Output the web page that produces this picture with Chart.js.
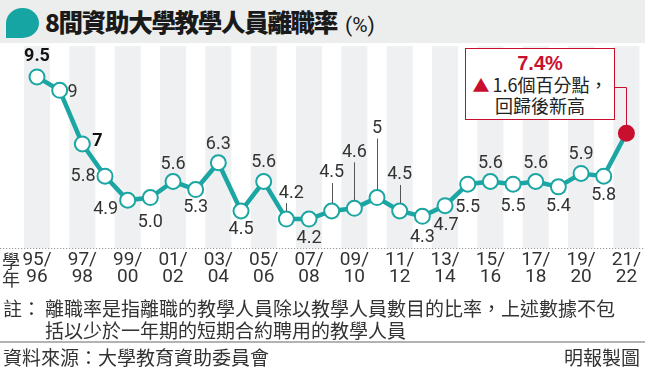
<!DOCTYPE html>
<html lang="zh-Hant">
<head>
<meta charset="utf-8">
<script src="https://cdn.jsdelivr.net/npm/chart.js@4"></script>
<style>
  html, body { margin:0; padding:0; background:#fff; }
  body { width:645px; height:368px; position:relative; overflow:hidden;
         font-family:'Noto Sans CJK TC', sans-serif; color:#2b2b2b; }
  .title-bar { position:absolute; left:0; top:0; width:645px; height:43px; background:#eceeee; }
  .title-icon { position:absolute; left:6px; top:8px; width:33px; height:30px; background:#17a5a3;
                border-radius:50% 50% 50% 0; }
  .title { position:absolute; left:45px; top:4px; font-size:24.5px; font-weight:900; color:#1a1a1a;
           letter-spacing:-1.3px; white-space:nowrap; }
  .title .unit { font-family:'Liberation Sans Narrow','Roboto',sans-serif; font-weight:400; font-size:21px;
                 letter-spacing:0; margin-left:8px; }
  #chart { position:absolute; left:0; top:0; }
  .xname { position:absolute; left:2px; top:251px; font-size:18px; line-height:18px; color:#333; }
  .callout { position:absolute; left:465px; top:48px; width:148px; height:70px; background:#fff;
             border:1.5px solid #c8102e; text-align:center; color:#222; }
  .callout .big { font-family:'Liberation Sans','Roboto',sans-serif; font-weight:700; color:#c8102e;
                  font-size:20px; line-height:22px; margin-top:3px; }
  .callout .txt { font-size:18px; line-height:21px; }
  .callout .tri { color:#c8102e; font-size:17px; margin-right:3px; }
  .note { position:absolute; top:297px; font-size:19px; line-height:22px; color:#333; }
  .rule { position:absolute; left:0; top:341px; width:645px; height:2px; background:#b3b3b3; }
  .src { position:absolute; top:345px; font-size:19px; line-height:24px; color:#333; }
</style>
</head>
<body>
<div class="title-bar"></div>
<div class="title-icon"></div>
<div class="title">8間資助大學教學人員離職率<span class="unit">(%)</span></div>

<canvas id="chart" width="645" height="300"></canvas>

<div class="xname">學<br>年</div>
<div class="callout">
  <div class="big">7.4%</div>
  <div class="txt"><span class="tri">▲</span>1.6個百分點，</div>
  <div class="txt">回歸後新高</div>
</div>

<div class="note" style="left:3px">註：</div>
<div class="note" style="left:45px">離職率是指離職的教學人員除以教學人員數目的比率，上述數據不包<br>括以少於一年期的短期合約聘用的教學人員</div>
<div class="rule"></div>
<div class="src" style="left:3px">資料來源：大學教育資助委員會</div>
<div class="src" style="right:5px">明報製圖</div>

<script>
// ── DATA ─────────────────────────────────────
const years = [
  '95/96','96/97','97/98','98/99','99/00','00/01','01/02','02/03','03/04',
  '04/05','05/06','06/07','07/08','08/09','09/10','10/11','11/12','12/13',
  '13/14','14/15','15/16','16/17','17/18','18/19','19/20','20/21','21/22'
];
const rates = [
  9.5, 9, 7, 5.8, 4.9, 5.0, 5.6, 5.3, 6.3,
  4.5, 5.6, 4.2, 4.2, 4.5, 4.6, 5, 4.5, 4.3,
  4.7, 5.5, 5.6, 5.5, 5.6, 5.4, 5.9, 5.8, 7.4
];
const rateLabels = [
  '9.5','9','7','5.8','4.9','5.0','5.6','5.3','6.3',
  '4.5','5.6','4.2','4.2','4.5','4.6','5','4.5','4.3',
  '4.7','5.5','5.6','5.5','5.6','5.4','5.9','5.8',''
];

// 標籤位置 [dx, dy, 引線]
const labelPos = [
  [0,-20,0],[13,2,0],[15,-2,0],[-22,0,0],[-22,9,0],[0,25,0],[0,-17,0],[0,18,0],[0,-18,0],
  [0,19,0],[0,-19,0],[5,-26,1],[0,19,0],[0,-38,1],[0,-56,1],[0,-69,1],[0,-36,1],[0,21,0],
  [1,20,0],[0,23,0],[0,-18,0],[0,22,0],[0,-18,0],[0,20,0],[0,-19,0],[0,19,0],[0,0,0]
];
const boldIdx = [0, 2];

const TEAL = '#1ba6a3';
const RED  = '#c8102e';
const NARROW = "'Liberation Sans Narrow', 'Roboto', sans-serif";

// ── PLUGINS ──────────────────────────────────
const bands = {
  id: 'bands',
  beforeDraw(chart) {
    const { ctx, chartArea, scales: { x } } = chart;
    ctx.save();
    ctx.fillStyle = '#eef0f1';
    years.forEach((y, i) => {
      if (i % 2) return;
      const px = x.getPixelForValue(i);
      ctx.fillRect(px - 13, 46, 26, chartArea.bottom - 46);
    });
    // 虛線底線
    ctx.fillStyle = '#9a9a9a';
    for (let xx = 0; xx < chart.width; xx += 3) ctx.fillRect(xx, chartArea.bottom, 1.2, 1);
    ctx.restore();
  }
};

const valueLabels = {
  id: 'valueLabels',
  afterDatasetsDraw(chart) {
    const { ctx } = chart;
    const pts = chart.getDatasetMeta(0).data;
    ctx.save();
    ctx.textAlign = 'center';
    ctx.textBaseline = 'middle';
    pts.forEach((p, i) => {
      const txt = rateLabels[i];
      if (!txt) return;
      const [dx, dy, lead] = labelPos[i];
      ctx.font = (boldIdx.includes(i) ? 'bold ' : '') + '18px ' + NARROW;
      ctx.fillStyle = boldIdx.includes(i) ? '#111' : '#333';
      ctx.fillText(txt, p.x + dx, p.y + dy);
      if (lead) {
        ctx.strokeStyle = '#555';
        ctx.lineWidth = 1;
        ctx.beginPath();
        ctx.moveTo(Math.round(p.x) + 0.5, p.y + dy + 10);
        ctx.lineTo(Math.round(p.x) + 0.5, p.y - 8);
        ctx.stroke();
      }
    });
    // 說明框引線
    const last = pts[pts.length - 1];
    ctx.strokeStyle = RED;
    ctx.lineWidth = 1;
    ctx.beginPath();
    ctx.moveTo(614, 87.5);
    ctx.lineTo(Math.round(last.x) + 0.5, 87.5);
    ctx.lineTo(Math.round(last.x) + 0.5, last.y - 6);
    ctx.stroke();
    ctx.restore();
  }
};

// ── CHART ────────────────────────────────────
new Chart(document.getElementById('chart'), {
  type: 'line',
  data: {
    labels: years,
    datasets: [{
      data: rates,
      borderColor: TEAL,
      borderWidth: 4.5,
      tension: 0,
      pointRadius: 7.5,
      pointBorderWidth: 2,
      pointBorderColor: rates.map((v, i) => i === rates.length - 1 ? RED : TEAL),
      pointBackgroundColor: rates.map((v, i) => i === rates.length - 1 ? RED : '#fff'),
    }]
  },
  options: {
    responsive: false,
    animation: false,
    layout: { padding: { top: 52, left: 37, right: 13, bottom: 0 } },
    plugins: { legend: { display: false }, tooltip: { enabled: false } },
    scales: {
      x: {
        offset: false,
        grid: { display: false, drawTicks: false },
        border: { display: false },
        afterFit(scale) { scale.height = 52; },
        ticks: {
          autoSkip: false,
          maxRotation: 0,
          padding: 4,
          color: '#333',
          font: { family: NARROW, size: 19, lineHeight: 0.9 },
          callback(v, i) {
            if (i % 2) return '';
            const [a, b] = years[i].split('/');
            return [a + '/', b];
          }
        }
      },
      y: { display: false, min: 3.12, max: 10.43 }
    }
  },
  plugins: [bands, valueLabels]
});
</script>
</body>
</html>
